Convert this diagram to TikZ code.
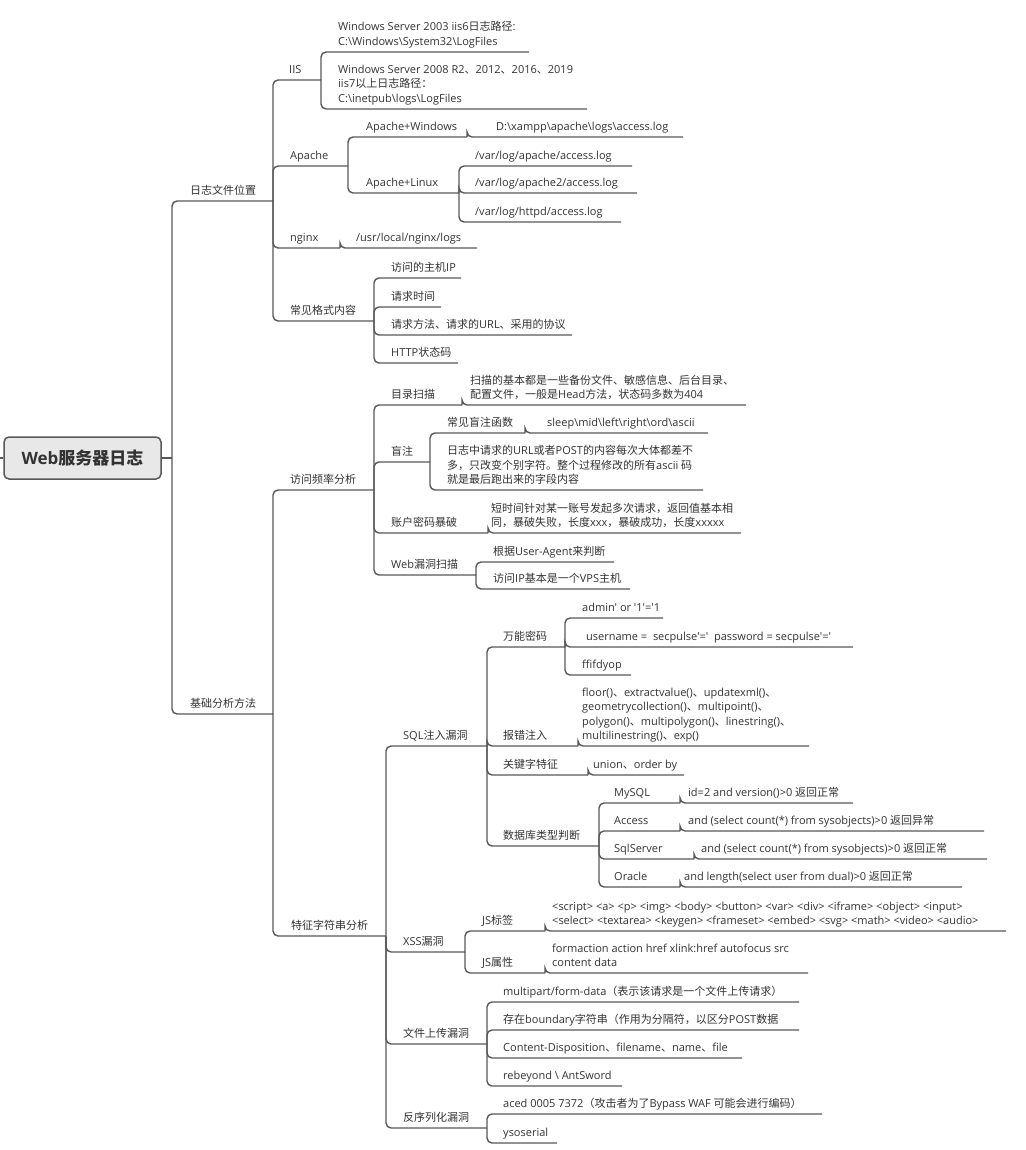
\documentclass[tikz,border=0pt]{standalone}
\usepackage{fontspec}
\setmainfont{Open Sans}[Ligatures=TeXOff]
\newfontfamily\latf{Open Sans}[Ligatures=TeXOff]
\newfontfamily\cjkf{Noto Sans CJK SC}
\XeTeXinterchartokenstate=1
\newcount\mmcnt
\mmcnt="3000
\loop\XeTeXcharclass\mmcnt=10 \advance\mmcnt by 1 \ifnum\mmcnt<"A000 \repeat
\mmcnt="FF00
\loop\XeTeXcharclass\mmcnt=10 \advance\mmcnt by 1 \ifnum\mmcnt<"FFF0 \repeat
\mmcnt="20
\loop\XeTeXcharclass\mmcnt=0 \advance\mmcnt by 1 \ifnum\mmcnt<"7F \repeat
\XeTeXinterchartoks 0 10 = {\cjkf}
\XeTeXinterchartoks 4095 10 = {\cjkf}
\XeTeXinterchartoks 10 0 = {\latf}
\XeTeXinterchartoks 10 4095 = {\latf}
\definecolor{linec}{HTML}{585858}
\definecolor{txtc}{HTML}{333333}
\definecolor{rootfill}{HTML}{E8E8E8}
\newcommand\bsl{\textbackslash}
\newcommand\mmlines[1]{\vbox{\baselineskip=14.5pt #1}}
\newcommand\mmtopic[5]{\coordinate (#1) at (#4,-#3); \node[mmtext] (#1-t) at (#2,-#3+6.5) {#5};}
\tikzset{
  conn/.style={draw=linec, line width=1.4pt, rounded corners=5pt},
  mmtext/.style={anchor=base west, inner sep=0pt, text=txtc, font=\latf\fontsize{11}{14.5}\selectfont},
  rootbox/.style={draw=linec, line width=1.5pt, fill=rootfill, rounded corners=5pt, minimum width=157pt, minimum height=42pt, inner sep=0pt, text=txtc, font=\latf\bfseries\fontsize{17}{20}\selectfont},
}
\begin{document}
\begin{tikzpicture}[x=1pt,y=1pt]
\fill[white] (0,0) rectangle (1025,-1150);
\useasboundingbox (0,0) rectangle (1025,-1150);
% root
\node[rootbox] (root) at (82.5,-458) {Web服务器日志};
\coordinate (lstub) at (0,-458);
\coordinate (rj) at (172,-458);
\draw[conn] (lstub) -- (root.west);
\draw[conn] (root.east) -- (rj);
% level 1
\mmtopic{logpos}{190}{201}{273}{日志文件位置}
\mmtopic{basic}{190}{714}{273}{基础分析方法}
% log file location
\mmtopic{iis}{289}{80}{321}{IIS}
\mmtopic{apache}{290}{166}{348}{Apache}
\mmtopic{nginx}{290}{248}{340}{nginx}
\mmtopic{fmt}{290}{321}{374}{常见格式内容}
\mmtopic{iis6}{338}{52}{529}{\mmlines{\hbox{Windows Server 2003 iis6日志路径:}\hbox{C:\bsl Windows\bsl System32\bsl LogFiles}}}
\mmtopic{iis7}{338}{109}{587}{\mmlines{\hbox{Windows Server 2008 R2、2012、2016、2019}\hbox{iis7以上日志路径：}\hbox{C:\bsl inetpub\bsl logs\bsl LogFiles}}}
\mmtopic{apwin}{366}{137}{467}{Apache+Windows}
\mmtopic{xampp}{496}{137}{683}{D:\bsl xampp\bsl apache\bsl logs\bsl access.log}
\mmtopic{aplinux}{366}{193}{459}{Apache+Linux}
\mmtopic{al1}{475}{166}{632}{/var/log/apache/access.log}
\mmtopic{al2}{475}{193}{637}{/var/log/apache2/access.log}
\mmtopic{al3}{475}{222}{621}{/var/log/httpd/access.log}
\mmtopic{nginxp}{356}{248}{477}{/usr/local/nginx/logs}
\mmtopic{f1}{391}{278}{461}{访问的主机IP}
\mmtopic{f2}{391}{307}{441}{请求时间}
\mmtopic{f3}{391}{335}{572}{请求方法、请求的URL、采用的协议}
\mmtopic{f4}{391}{363}{458}{HTTP状态码}
% basic analysis
\mmtopic{freq}{290}{490}{374}{访问频率分析}
\mmtopic{sig}{291}{936}{386}{特征字符串分析}
\mmtopic{dirscan}{391}{405}{462}{目录扫描}
\mmtopic{dirscand}{470}{405}{746}{\mmlines{\hbox{扫描的基本都是一些备份文件、敏感信息、后台目录、}\hbox{配置文件，一般是Head方法，状态码多数为404}}}
\mmtopic{blind}{391}{462}{430}{盲注}
\mmtopic{bf}{447}{433}{525}{常见盲注函数}
\mmtopic{bfv}{547}{433}{708}{sleep\bsl mid\bsl left\bsl right\bsl ord\bsl ascii}
\mmtopic{bd}{447}{490}{703}{\mmlines{\hbox{日志中请求的URL或者POST的内容每次大体都差不}\hbox{多，只改变个别字符。整个过程修改的所有ascii 码}\hbox{就是最后跑出来的字段内容}}}
\mmtopic{brute}{391}{533}{488}{账户密码暴破}
\mmtopic{bruted}{491}{533}{741}{\mmlines{\hbox{短时间针对某一账号发起多次请求，返回值基本相}\hbox{同，暴破失败，长度xxx，暴破成功，长度xxxxx}}}
\mmtopic{webscan}{391}{575}{476}{Web漏洞扫描}
\mmtopic{ws1}{493}{562}{614}{根据User-Agent来判断}
\mmtopic{ws2}{493}{589}{630}{访问IP基本是一个VPS主机}
% signature strings
\mmtopic{sql}{403}{746}{487}{SQL注入漏洞}
\mmtopic{xss}{403}{952}{465}{XSS漏洞}
\mmtopic{upload}{403}{1044}{487}{文件上传漏洞}
\mmtopic{deser}{403}{1128}{487}{反序列化漏洞}
\mmtopic{univ}{503}{647}{565}{万能密码}
\mmtopic{u1}{582}{618}{663}{admin' or '1'='1}
\mmtopic{u2}{586}{647}{853}{username =\ \ secpulse'='\ \ password = secpulse'='}
\mmtopic{u3}{582}{675}{631}{ffifdyop}
\mmtopic{errinj}{503}{746}{578}{报错注入}
\mmtopic{errinjd}{582}{746}{809}{\mmlines{\hbox{floor()、extractvalue()、updatexml()、}\hbox{geometrycollection()、multipoint()、}\hbox{polygon()、multipolygon()、linestring()、}\hbox{multilinestring()、exp()}}}
\mmtopic{kw}{503}{775}{588}{关键字特征}
\mmtopic{kwd}{593}{775}{684}{union、order by}
\mmtopic{dbtype}{503}{846}{599}{数据库类型判断}
\mmtopic{mysql}{614}{803}{680}{MySQL}
\mmtopic{mysqld}{688}{803}{853}{id=2 and version()>0 返回正常}
\mmtopic{access}{614}{831}{680}{Access}
\mmtopic{accessd}{688}{831}{984}{and (select count(*) from sysobjects)>0 返回异常}
\mmtopic{sqlsrv}{614}{859}{694}{SqlServer}
\mmtopic{sqlsrvd}{701}{859}{987}{and (select count(*) from sysobjects)>0 返回正常}
\mmtopic{oracle}{614}{887}{680}{Oracle}
\mmtopic{oracled}{684}{887}{962}{and length(select user from dual)>0 返回正常}
\mmtopic{jstag}{482}{931}{545}{JS标签}
\mmtopic{jstagd}{552}{931}{1006}{\mmlines{\hbox{<script> <a> <p> <img> <body> <button> <var> <div> <iframe> <object> <input>}\hbox{<select> <textarea> <keygen> <frameset> <embed> <svg> <math> <video> <audio>}}}
\mmtopic{jsattr}{482}{973}{545}{JS属性}
\mmtopic{jsattrd}{552}{973}{808}{\mmlines{\hbox{formaction action href xlink:href autofocus src}\hbox{content data}}}
\mmtopic{up1}{503}{1002}{799}{multipart/form-data（表示该请求是一个文件上传请求）}
\mmtopic{up2}{503}{1030}{799}{存在boundary字符串（作用为分隔符，以区分POST数据}
\mmtopic{up3}{503}{1058}{742}{Content-Disposition、filename、name、file}
\mmtopic{up4}{503}{1086}{622}{rebeyond \bsl{} AntSword}
\mmtopic{de1}{503}{1114}{822}{aced 0005 7372（攻击者为了Bypass WAF 可能会进行编码）}
\mmtopic{de2}{503}{1143}{557}{ysoserial}
% connectors
\foreach \p/\c in {rj/logpos, rj/basic,
  logpos/iis, logpos/apache, logpos/nginx, logpos/fmt,
  iis/iis6, iis/iis7, apache/apwin, apache/aplinux, apwin/xampp,
  aplinux/al1, aplinux/al2, aplinux/al3, nginx/nginxp,
  fmt/f1, fmt/f2, fmt/f3, fmt/f4,
  basic/freq, basic/sig,
  freq/dirscan, freq/blind, freq/brute, freq/webscan,
  dirscan/dirscand, blind/bf, blind/bd, bf/bfv, brute/bruted,
  webscan/ws1, webscan/ws2,
  sig/sql, sig/xss, sig/upload, sig/deser,
  sql/univ, sql/errinj, sql/kw, sql/dbtype,
  univ/u1, univ/u2, univ/u3, errinj/errinjd, kw/kwd,
  dbtype/mysql, dbtype/access, dbtype/sqlsrv, dbtype/oracle,
  mysql/mysqld, access/accessd, sqlsrv/sqlsrvd, oracle/oracled,
  xss/jstag, xss/jsattr, jstag/jstagd, jsattr/jsattrd,
  upload/up1, upload/up2, upload/up3, upload/up4,
  deser/de1, deser/de2}
  \draw[conn] (\p) |- (\c);
\end{tikzpicture}
\end{document}
